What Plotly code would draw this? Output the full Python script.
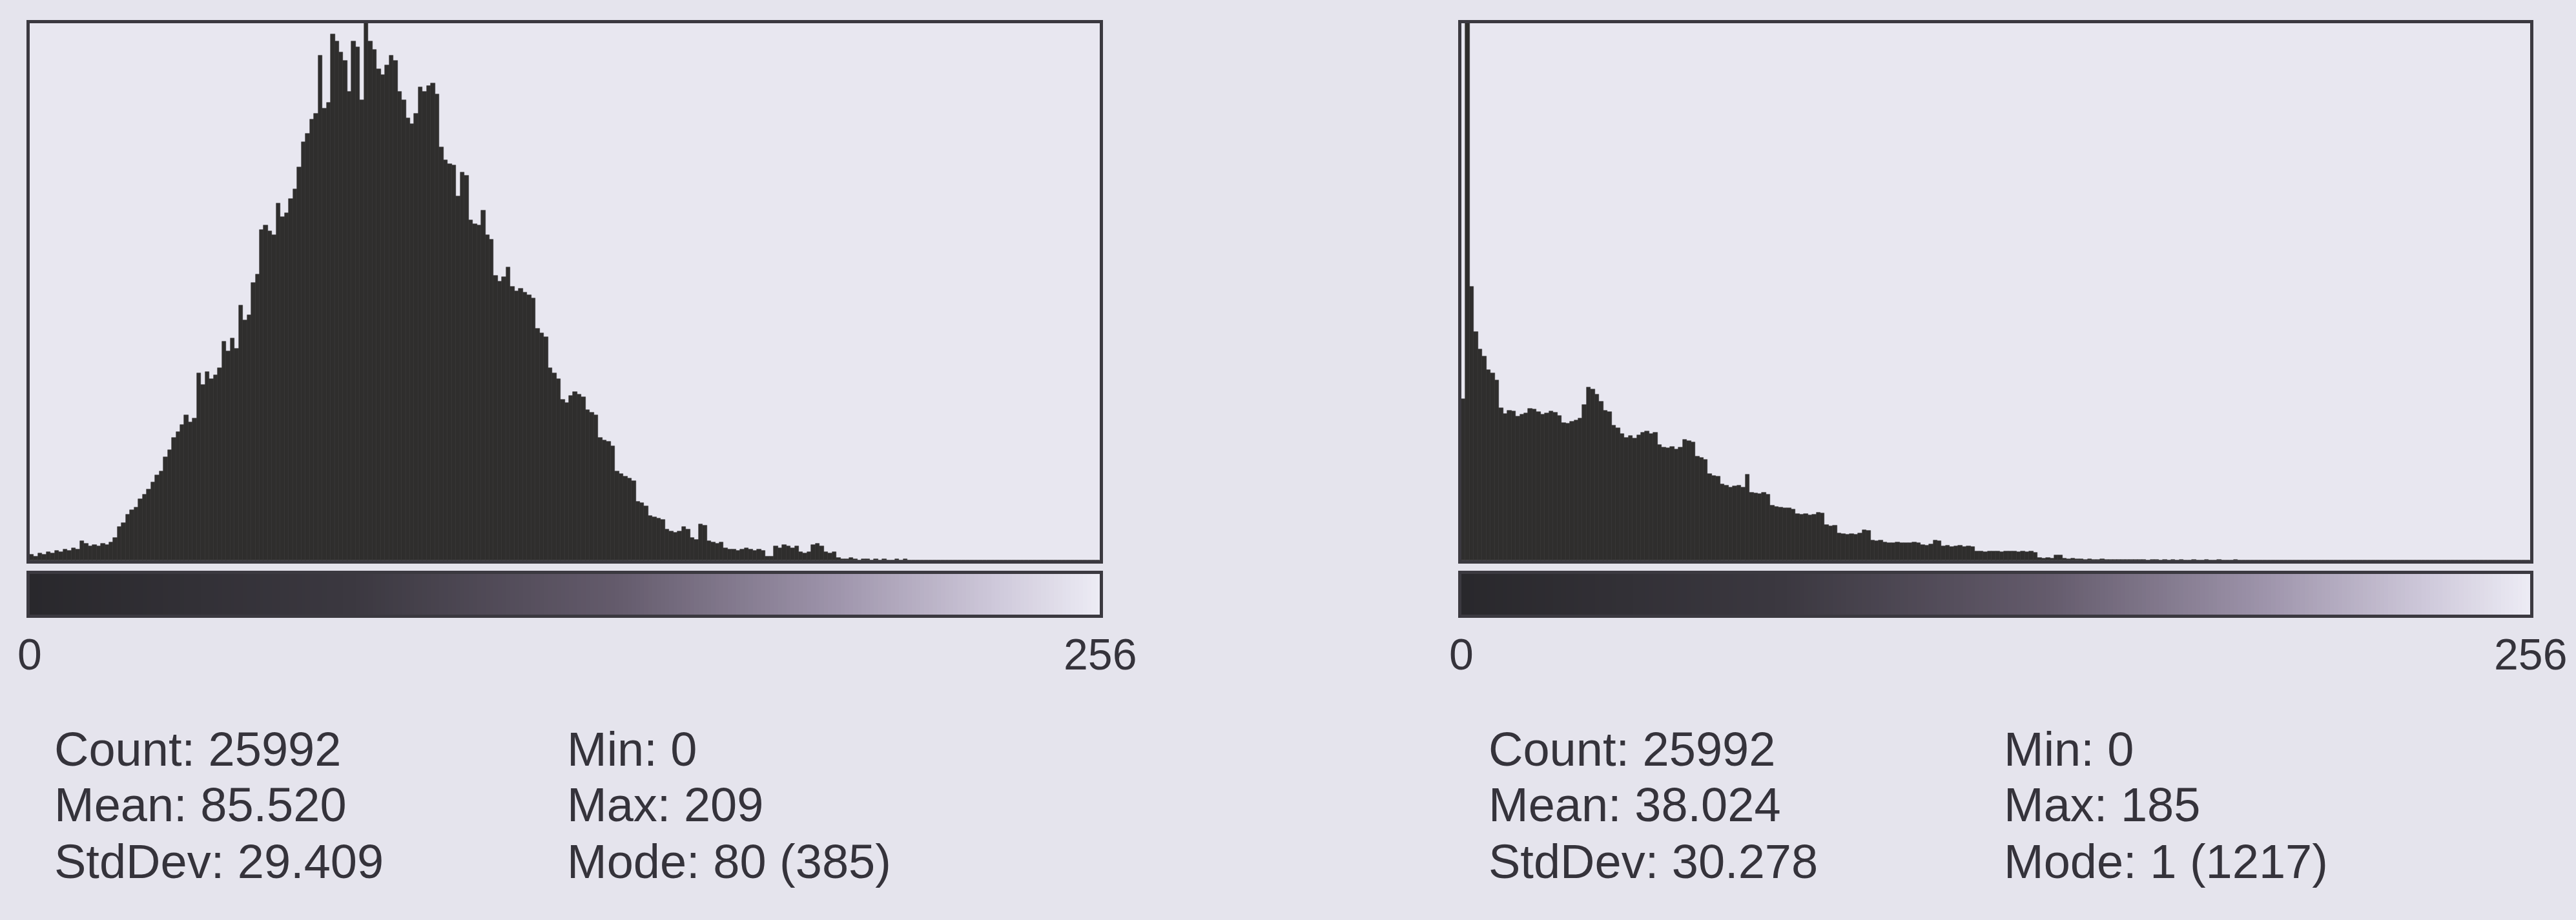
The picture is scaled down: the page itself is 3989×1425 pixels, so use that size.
import plotly.graph_objects as go

# Grey-level bins (8-bit image, 256 levels)
bins = list(range(256))

# Counts per grey level, image A (bins 0..255)
counts_a = [
    4, 3, 5, 4, 6, 5, 7, 6, 8, 7,
    9, 8, 14, 12, 10, 11, 10, 12, 11, 13,
    16, 24, 27, 33, 36, 38, 44, 47, 51, 56,
    61, 64, 74, 79, 88, 92, 97, 104, 99, 102,
    134, 126, 135, 130, 133, 138, 157, 150, 159, 152,
    183, 172, 176, 199, 205, 237, 240, 236, 233, 256,
    246, 249, 259, 266, 282, 300, 306, 316, 320, 362,
    324, 328, 377, 372, 364, 358, 336, 372, 368, 330,
    385, 372, 366, 352, 348, 355, 362, 358, 336, 330,
    317, 313, 320, 339, 336, 340, 342, 334, 296, 287,
    284, 283, 261, 278, 276, 244, 241, 240, 251, 233,
    230, 204, 200, 203, 210, 196, 193, 195, 192, 190,
    188, 166, 163, 160, 138, 134, 130, 115, 113, 118,
    121, 119, 117, 108, 106, 104, 88, 86, 85, 82,
    64, 62, 60, 59, 57, 42, 41, 39, 32, 31,
    30, 29, 22, 21, 20, 21, 24, 22, 16, 15,
    26, 25, 14, 13, 12, 13, 9, 8, 8, 7,
    8, 9, 8, 7, 8, 7, 3, 3, 10, 9,
    11, 10, 9, 10, 6, 5, 6, 11, 12, 10,
    6, 5, 6, 2, 1, 1, 2, 1, 0, 1,
    1, 0, 1, 0, 1, 0, 0, 1, 0, 1,
    0, 0, 0, 0, 0, 0, 0, 0, 0, 0,
    0, 0, 0, 0, 0, 0, 0, 0, 0, 0,
    0, 0, 0, 0, 0, 0, 0, 0, 0, 0,
    0, 0, 0, 0, 0, 0, 0, 0, 0, 0,
    0, 0, 0, 0, 0, 0,
]

# Counts per grey level, image B (bins 0..255)
counts_b = [
    365, 1217, 620, 518, 478, 462, 432, 424, 408, 345,
    332, 340, 338, 326, 330, 334, 344, 342, 336, 330,
    334, 338, 335, 328, 312, 310, 314, 318, 322, 352,
    392, 388, 376, 360, 340, 336, 306, 300, 286, 278,
    282, 276, 284, 290, 292, 286, 290, 262, 256, 254,
    258, 252, 256, 274, 270, 268, 236, 232, 228, 196,
    192, 190, 172, 170, 166, 168, 170, 165, 194, 154,
    152, 150, 153, 149, 124, 121, 120, 118, 119, 116,
    106, 104, 105, 103, 104, 108, 107, 80, 78, 79,
    61, 60, 59, 60, 58, 61, 69, 68, 46, 44,
    45, 41, 40, 39, 41, 40, 39, 40, 41, 39,
    35, 34, 36, 45, 44, 32, 33, 31, 32, 33,
    31, 32, 31, 20, 21, 19, 20, 21, 20, 19,
    20, 21, 20, 19, 20, 19, 20, 18, 6, 5,
    6, 5, 12, 11, 4, 3, 4, 3, 3, 2,
    3, 2, 2, 3, 2, 1, 2, 1, 2, 1,
    1, 2, 1, 1, 0, 1, 1, 0, 1, 0,
    1, 0, 1, 0, 0, 1, 0, 0, 1, 0,
    0, 1, 0, 0, 0, 1, 0, 0, 0, 0,
    0, 0, 0, 0, 0, 0, 0, 0, 0, 0,
    0, 0, 0, 0, 0, 0, 0, 0, 0, 0,
    0, 0, 0, 0, 0, 0, 0, 0, 0, 0,
    0, 0, 0, 0, 0, 0, 0, 0, 0, 0,
    0, 0, 0, 0, 0, 0, 0, 0, 0, 0,
    0, 0, 0, 0, 0, 0, 0, 0, 0, 0,
    0, 0, 0, 0, 0, 0,
]

# Axis end labels under the LUT strip
range_labels = ["0", "256"]

# Statistics panels (left column / right column) for each histogram
stats_a_left = ["Count: 25992", "Mean: 85.520", "StdDev: 29.409"]
stats_a_right = ["Min: 0", "Max: 209", "Mode: 80 (385)"]
stats_b_left = ["Count: 25992", "Mean: 38.024", "StdDev: 30.278"]
stats_b_right = ["Min: 0", "Max: 185", "Mode: 1 (1217)"]

# ---- page geometry (pixels) ----
W, H = 3989, 1425
BG = "#e5e4ed"
PLOT_BG = "#e8e7f0"
FILL = "#2f2e2d"
FRAME = "#3b3940"
TEXT = "#35333b"
FONT = "Liberation Sans, Arial, sans-serif"


def xdom(a, b):
    return [a / W, b / W]


def ydom(top, bottom):
    return [1 - bottom / H, 1 - top / H]


panels = [
    dict(x0=46, x1=1703, counts=counts_a, stats=(stats_a_left, stats_a_right),
         text_x=(82, 876)),
    dict(x0=2263, x1=3918, counts=counts_b, stats=(stats_b_left, stats_b_right),
         text_x=(2303, 3101)),
]
HIST_TOP, HIST_BOT = 36, 868
LUT_TOP, LUT_BOT = 889, 952
LABEL_Y = 1013
STAT_ROWS_Y = [1160, 1246, 1334]

fig = go.Figure()
layout = dict(
    width=W, height=H,
    margin=dict(l=0, r=0, t=0, b=0),
    paper_bgcolor=BG, plot_bgcolor=PLOT_BG,
    showlegend=False, bargap=0, hovermode=False,
    annotations=[],
)

lut_scale = [
    [0.0, "#29282c"], [0.3, "#3b3840"], [0.55, "#645b6c"],
    [0.75, "#9d93aa"], [0.9, "#cdc7d9"], [1.0, "#ecebf4"],
]

axis_common = dict(
    showticklabels=False, showgrid=False, zeroline=False,
    showline=True, mirror=True, linecolor=FRAME, linewidth=5,
    ticks="", fixedrange=True,
)

for i, p in enumerate(panels):
    hx = 2 * i + 1          # histogram axes index
    lx = 2 * i + 2          # LUT strip axes index
    hxa = "x" if hx == 1 else f"x{hx}"
    hya = "y" if hx == 1 else f"y{hx}"
    lxa, lya = f"x{lx}", f"y{lx}"

    # histogram bars, one per grey level, spanning [k, k+1]
    fig.add_trace(go.Bar(
        x=bins, y=p["counts"], width=1, offset=0,
        marker=dict(color=FILL, line=dict(width=0.6, color=FILL)),
        xaxis=hxa, yaxis=hya,
    ))
    # grey-level LUT strip
    fig.add_trace(go.Heatmap(
        x=[b + 0.5 for b in bins], y=[0], z=[bins],
        colorscale=lut_scale, showscale=False,
        xaxis=lxa, yaxis=lya,
    ))

    xkey = "xaxis" if hx == 1 else f"xaxis{hx}"
    ykey = "yaxis" if hx == 1 else f"yaxis{hx}"
    layout[xkey] = dict(axis_common, domain=xdom(p["x0"], p["x1"]),
                        range=[0, 256], anchor=hya)
    layout[ykey] = dict(axis_common, domain=ydom(HIST_TOP, HIST_BOT),
                        range=[0, max(p["counts"])], anchor=hxa)
    layout[f"xaxis{lx}"] = dict(axis_common, domain=xdom(p["x0"], p["x1"]),
                                range=[0, 256], anchor=lya)
    layout[f"yaxis{lx}"] = dict(axis_common, domain=ydom(LUT_TOP, LUT_BOT),
                                range=[-0.5, 0.5], anchor=lxa)

    # "0" and "256" under the strip
    for val, lab in zip([0, 256], range_labels):
        layout["annotations"].append(dict(
            x=val, xref=lxa, y=1 - LABEL_Y / H, yref="paper",
            text=lab, showarrow=False, xanchor="center", yanchor="middle",
            font=dict(family=FONT, size=68, color=TEXT),
        ))

    # statistics text
    for col, xpx in zip(p["stats"], p["text_x"]):
        for line, ypx in zip(col, STAT_ROWS_Y):
            layout["annotations"].append(dict(
                x=xpx / W, xref="paper", y=1 - ypx / H, yref="paper",
                text=line, showarrow=False, xanchor="left", yanchor="middle",
                font=dict(family=FONT, size=74, color=TEXT),
            ))

fig.update_layout(**layout)
fig.write_html("out.html")
